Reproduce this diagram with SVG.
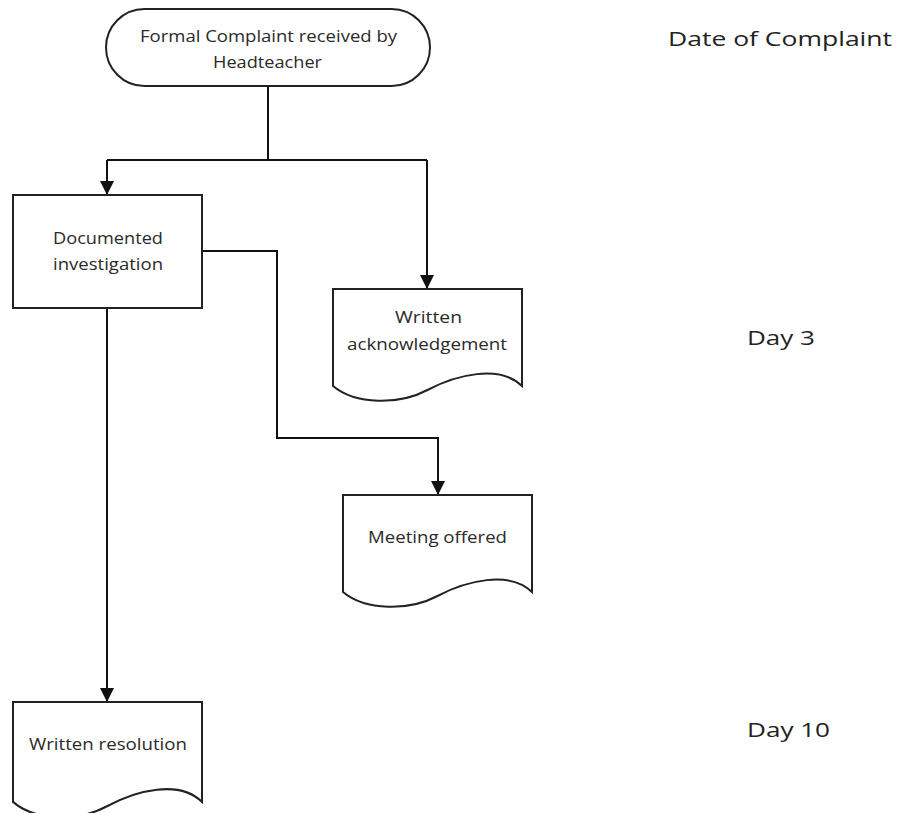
<svg xmlns="http://www.w3.org/2000/svg" width="903" height="813" viewBox="0 0 903 813">
<style>
.shape{fill:#fff;stroke:#222;stroke-width:2}
.conn{fill:none;stroke:#111;stroke-width:2}
.t{font-family:"Open Sans","DejaVu Sans",sans-serif;font-size:17px;fill:#2a2a2a;text-anchor:middle}
.side{font-family:"Open Sans","DejaVu Sans",sans-serif;font-size:20px;fill:#222;text-anchor:middle}
</style>
<defs>
<marker id="arr" viewBox="0 0 14 14" refX="14" refY="7" markerWidth="14" markerHeight="14" markerUnits="userSpaceOnUse" orient="auto">
<path d="M0,0 L14,7 L0,14 Z" fill="#111"/>
</marker>
<path id="doc" d="M189,97 V0 H0 V97 C22.7,116 66.2,116 94.5,101 S166.3,75 189,97 Z"/>
</defs>
<rect width="903" height="813" fill="#fff"/>

<g id="connectors">
<polyline class="conn" points="268,86 268,160"/>
<polyline class="conn" points="107,160 427,160"/>
<polyline class="conn" points="107,160 107,195" marker-end="url(#arr)"/>
<polyline class="conn" points="427,160 427,289" marker-end="url(#arr)"/>
<polyline class="conn" points="202,251 277,251 277,438 438,438 438,495" marker-end="url(#arr)"/>
<polyline class="conn" points="107,308 107,702" marker-end="url(#arr)"/>
</g>

<g id="start">
<rect class="shape" x="106" y="9" width="324" height="77" rx="38.5" ry="38.5"/>
<text class="t" x="268.5" y="42" textLength="257" lengthAdjust="spacingAndGlyphs">Formal Complaint received by</text>
<text class="t" x="267.5" y="68" textLength="109" lengthAdjust="spacingAndGlyphs">Headteacher</text>
</g>

<g id="investigation">
<rect class="shape" x="13" y="195" width="189" height="113"/>
<text class="t" x="108" y="244" textLength="110" lengthAdjust="spacingAndGlyphs">Documented</text>
<text class="t" x="108" y="270" textLength="110" lengthAdjust="spacingAndGlyphs">investigation</text>
</g>

<g id="acknowledgement">
<use href="#doc" class="shape" transform="translate(333,289)"/>
<text class="t" x="428.5" y="323" textLength="67" lengthAdjust="spacingAndGlyphs">Written</text>
<text class="t" x="427" y="350" textLength="160" lengthAdjust="spacingAndGlyphs">acknowledgement</text>
</g>

<g id="meeting">
<use href="#doc" class="shape" transform="translate(343,495)"/>
<text class="t" x="437.5" y="543" textLength="139" lengthAdjust="spacingAndGlyphs">Meeting offered</text>
</g>

<g id="resolution">
<use href="#doc" class="shape" transform="translate(13,702) scale(1,1.03)"/>
<text class="t" x="108" y="750" textLength="158" lengthAdjust="spacingAndGlyphs">Written resolution</text>
</g>

<g id="labels">
<text class="side" x="780" y="46" textLength="224" lengthAdjust="spacingAndGlyphs">Date of Complaint</text>
<text class="side" x="781" y="345" textLength="68" lengthAdjust="spacingAndGlyphs">Day 3</text>
<text class="side" x="788.5" y="737" textLength="83" lengthAdjust="spacingAndGlyphs">Day 10</text>
</g>
</svg>
